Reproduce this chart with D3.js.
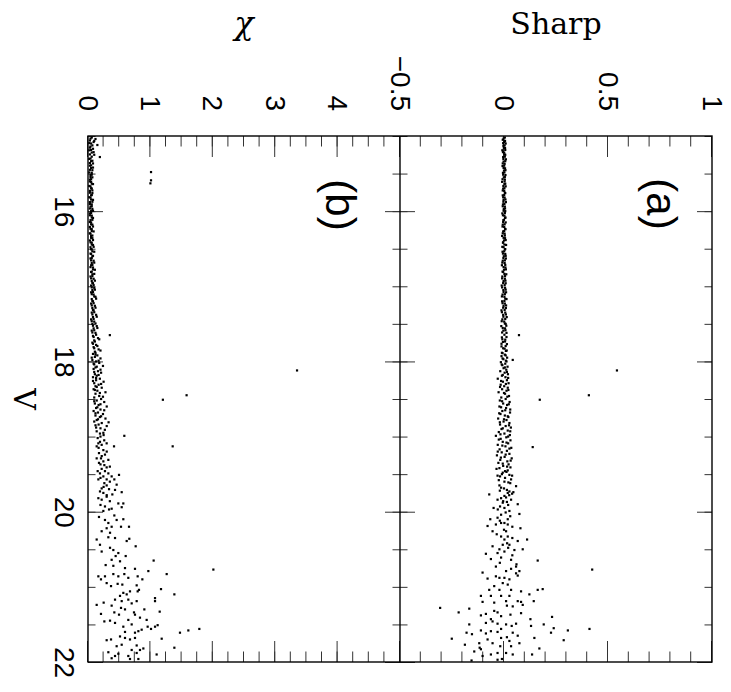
<!doctype html>
<html>
<head>
<meta charset="utf-8">
<title>Sharp and chi vs V</title>
<script src="https://cdnjs.cloudflare.com/ajax/libs/d3/7.8.5/d3.min.js"></script>
<style>
  body { margin: 0; background: #fff; }
</style>
</head>
<body>
<div id="chart"></div>
<script>
// axis ranges and tick labels
const vDomain = [15, 22];
const sharpDomain = [-0.5, 1];
const chiDomain = [0, 5];
const vLabels = [16, 18, 20, 22];
const sharpLabels = [-0.5, 0, 0.5, 1];
const chiLabels = [0, 1, 2, 3, 4];

// panel (a): [V, sharp]
const brightSharp = [[15.02,0.004],[15.05,-0.006],[15.08,0.002],[15.10,0.008],[15.13,-0.003],[15.16,0.005],[15.19,-0.008],[15.22,0.001],[15.25,0.006],[15.28,-0.004],[15.31,0.009],[15.34,-0.002],[15.37,0.003],[15.40,-0.007],[15.43,0.005],[15.46,0.0],[15.49,-0.005],[15.52,0.007],[15.55,-0.001],[15.58,0.004],[15.61,-0.009],[15.64,0.002],[15.67,0.008],[15.70,-0.004],[15.73,0.001],[15.76,0.006],[15.79,-0.006],[15.82,0.003],[15.85,-0.002],[15.88,0.009],[15.91,-0.005],[15.94,0.004],[15.97,-0.001],[16.00,0.006],[16.03,-0.008],[16.06,0.002],[16.09,0.005],[16.12,-0.003],[16.15,0.008],[16.18,-0.006],[16.21,0.001],[16.24,0.007],[16.27,-0.004],[16.30,0.003],[16.33,-0.009],[16.36,0.005],[16.39,0.0],[16.42,-0.005],[16.45,0.01],[16.48,-0.002],[16.51,0.004],[16.54,-0.007],[16.57,0.006],[16.60,-0.001],[16.63,0.009],[16.66,-0.006],[16.69,0.003],[16.72,-0.01],[16.75,0.007],[16.78,0.0],[16.81,-0.004],[16.84,0.011],[16.87,-0.008],[16.90,0.004],[16.93,-0.002],[16.96,0.008],[16.99,-0.011],[17.02,0.005],[17.05,-0.003],[17.08,0.01],[17.11,-0.007],[17.14,0.002],[17.17,0.012],[17.20,-0.009],[17.23,0.004],[17.26,-0.002],[17.29,0.009],[17.32,-0.012],[17.35,0.006],[17.38,-0.004],[17.41,0.013],[17.44,-0.008],[17.47,0.001],[17.50,0.008],[17.53,-0.013],[17.56,0.005],[17.59,-0.003],[17.62,0.012],[17.65,0.072],[17.68,-0.01],[17.71,0.006],[17.74,-0.005],[17.77,0.014],[17.80,-0.012],[17.83,0.003],[17.86,0.009],[17.89,-0.007]];

const brightSharp2 = [[15.035,-0.002],[15.065,0.005],[15.095,-0.004],[15.125,0.003],[15.155,-0.001],[15.185,0.006],[15.215,-0.005],[15.245,0.002],[15.275,0.004],[15.305,-0.003],[15.335,0.006],[15.365,-0.006],[15.395,0.001],[15.425,-0.002],[15.455,0.007],[15.485,0.002],[15.515,-0.004],[15.545,0.004],[15.575,-0.007],[15.605,0.003],[15.635,0.006],[15.665,-0.003],[15.695,0.002],[15.725,-0.006],[15.755,0.004],[15.785,0.001],[15.815,-0.004],[15.845,0.007],[15.875,-0.003],[15.905,0.002],[15.935,-0.006],[15.965,0.005],[15.995,-0.002],[16.025,0.004],[16.055,-0.005],[16.085,0.007],[16.115,0.0],[16.145,-0.004],[16.175,0.003],[16.205,-0.007],[16.235,0.005],[16.265,0.001],[16.295,-0.006],[16.325,0.004],[16.355,-0.002],[16.385,0.008],[16.415,-0.004],[16.445,0.002],[16.475,-0.008],[16.505,0.006],[16.535,0.001],[16.565,-0.005],[16.595,0.008],[16.625,-0.003],[16.655,0.004],[16.685,-0.008],[16.715,0.006],[16.745,-0.002],[16.775,0.009],[16.805,-0.007],[16.835,0.002],[16.865,0.005],[16.895,-0.009],[16.925,0.007],[16.955,-0.004],[16.985,0.003],[17.015,-0.009],[17.045,0.008],[17.075,-0.002],[17.105,0.004],[17.135,-0.01],[17.165,0.006],[17.195,0.002],[17.225,-0.007],[17.255,0.01],[17.285,-0.004],[17.315,0.003],[17.345,-0.01],[17.375,0.009],[17.405,-0.003],[17.435,0.006],[17.465,-0.011],[17.495,0.004],[17.525,0.011],[17.555,-0.006],[17.585,0.007],[17.615,-0.009],[17.645,0.002],[17.675,0.012],[17.705,-0.008],[17.735,0.005],[17.765,-0.012],[17.795,0.008],[17.825,-0.004],[17.855,0.013],[17.885,-0.01]];

const midSharp = [[17.91,0.004],[17.93,-0.012],[17.95,0.015],[17.97,-0.003],[17.98,0.042],[17.99,0.009],[18.01,-0.015],[18.03,0.006],[18.05,-0.008],[18.07,0.017],[18.09,-0.002],[18.11,0.011],[18.12,0.543],[18.13,-0.018],[18.15,0.003],[18.17,0.019],[18.19,-0.01],[18.21,0.007],[18.23,-0.03],[18.25,0.014],[18.27,-0.005],[18.29,0.022],[18.31,-0.016],[18.33,0.001],[18.35,0.018],[18.37,-0.009],[18.39,0.012],[18.41,-0.026],[18.43,0.005],[18.45,0.408],[18.46,0.024],[18.48,-0.013],[18.50,0.008],[18.51,0.172],[18.52,-0.02],[18.54,0.027],[18.56,-0.004],[18.58,0.015],[18.60,-0.022],[18.62,0.01],[18.64,0.03],[18.66,-0.008],[18.68,0.029],[18.70,-0.017],[18.72,0.004],[18.74,0.021],[18.76,-0.028],[18.78,0.012],[18.80,-0.002],[18.82,0.026],[18.84,-0.019],[18.86,0.008],[18.88,0.033],[18.90,-0.012],[18.92,0.018],[18.94,-0.025],[18.96,0.002],[18.98,0.028],[18.99,-0.039],[19.01,0.011],[19.03,-0.016],[19.05,0.031],[19.07,-0.006],[19.09,0.02],[19.11,-0.03],[19.13,0.007],[19.14,0.138],[19.15,0.035],[19.17,-0.021],[19.19,0.014],[19.21,-0.011],[19.23,0.026],[19.25,-0.034],[19.27,0.003],[19.29,0.037],[19.31,-0.018],[19.33,0.016],[19.35,-0.027],[19.37,0.022],[19.39,-0.004],[19.41,0.031],[19.43,-0.036]];

const midSharp2 = [[17.92,0.008],[17.96,-0.007],[18.00,0.012],[18.04,-0.011],[18.08,0.004],[18.14,0.014],[18.18,-0.006],[18.22,0.02],[18.26,-0.014],[18.30,0.009],[18.34,-0.019],[18.38,0.021],[18.42,0.0],[18.47,0.016],[18.53,-0.009],[18.57,0.023],[18.61,-0.014],[18.65,0.006],[18.69,-0.023],[18.73,0.018],[18.77,0.0],[18.81,-0.02],[18.85,0.024],[18.89,-0.006],[18.93,0.03],[18.97,-0.017],[19.00,0.02],[19.04,-0.025],[19.08,0.012],[19.12,-0.008],[19.16,0.026],[19.20,-0.03],[19.24,0.008],[19.28,-0.015],[19.32,0.032],[19.36,-0.006],[19.40,0.015],[19.42,-0.022]];

const faintSharp = [[19.52,-0.031],[19.53,-0.019],[19.48,-0.006],[19.46,0.005],[19.45,0.018],[19.51,0.026],[19.52,0.039],[19.57,0.034],[19.61,0.021],[19.60,0.002],[19.65,-0.022],[19.68,-0.014],[19.71,0.014],[19.73,0.026],[19.76,0.039],[19.75,0.018],[19.79,0.002],[19.82,-0.014],[19.84,-0.031],[19.66,0.058],[19.77,-0.071],[19.84,0.034],[19.87,0.014],[19.88,-0.006],[19.90,0.066],[19.93,-0.019],[19.95,-0.05],[19.95,0.002],[19.99,0.026],[20.03,0.074],[20.04,-0.014],[20.08,-0.031],[20.10,0.018],[20.15,0.002],[20.10,-0.066],[20.19,-0.079],[20.17,-0.039],[20.15,-0.014],[20.17,0.018],[20.22,0.079],[20.26,-0.055],[20.26,0.01],[20.33,-0.014],[20.33,0.018],[20.37,0.002],[20.39,0.066],[20.37,0.111],[20.44,-0.006],[20.46,-0.055],[20.44,0.026],[20.50,-0.022],[20.51,0.05],[20.50,0.09],[20.56,-0.087],[20.63,-0.063],[20.55,-0.031],[20.61,-0.014],[20.53,0.002],[20.64,0.034],[20.65,0.162],[20.73,0.058],[20.76,0.034],[20.79,0.01],[20.73,-0.039],[20.79,0.074],[20.81,-0.103],[20.86,-0.039],[20.88,-0.022],[20.88,0.002],[20.90,0.026],[20.82,0.058],[20.85,0.066],[20.89,-0.079],[20.95,-0.006],[20.97,0.018],[20.99,-0.047],[21.04,-0.071],[21.04,-0.022],[21.04,0.034],[21.06,0.082],[21.04,0.162],[21.03,0.186],[21.12,-0.111],[21.12,-0.063],[21.12,-0.014],[21.12,0.026],[21.10,0.122],[21.19,0.066],[21.20,-0.103],[21.21,-0.047],[21.19,0.01],[21.20,0.082],[21.19,0.143],[21.29,-0.167],[21.28,-0.307],[21.25,0.014],[21.26,0.042],[21.24,0.09],[21.38,-0.111],[21.36,-0.087],[21.32,-0.047],[21.34,-0.031],[21.39,-0.014],[21.43,-0.063],[21.37,0.031],[21.35,0.082],[21.34,-0.218],[21.40,0.231],[21.43,0.127],[21.50,-0.167],[21.48,-0.087],[21.46,-0.055],[21.49,-0.031],[21.50,0.01],[21.49,0.058],[21.52,0.130],[21.50,0.191],[21.55,0.239],[21.58,0.307],[21.56,0.411],[21.58,-0.111],[21.59,-0.063],[21.56,-0.014],[21.52,0.037],[21.61,-0.18],[21.63,-0.154],[21.62,-0.087],[21.60,-0.031],[21.61,0.042],[21.61,0.226],[21.69,-0.251],[21.70,-0.079],[21.68,-0.014],[21.67,0.014],[21.65,0.066],[21.68,0.146],[21.71,0.287],[21.77,-0.188],[21.75,-0.119],[21.75,-0.055],[21.72,0.026],[21.75,0.074],[21.81,-0.117],[21.83,-0.111],[21.79,-0.018],[21.79,0.034],[21.86,-0.143],[21.92,-0.103],[21.90,-0.063],[21.88,-0.031],[21.88,0.01],[21.90,0.042],[21.90,0.135],[21.82,0.17],[21.98,-0.156],[21.97,-0.031],[21.96,-0.01],[19.47,0.012],[19.50,-0.01],[19.55,0.005],[19.58,-0.025],[19.62,0.03],[19.69,0.0],[19.72,-0.02],[19.74,0.045],[19.78,0.025],[19.81,0.01],[19.86,-0.004],[19.91,0.02],[19.97,-0.03],[20.01,0.008],[20.06,0.03],[20.12,-0.02],[20.20,0.04],[20.24,0.0],[20.30,-0.035],[20.35,0.04],[20.42,0.015],[20.48,0.02],[20.58,0.04],[20.68,-0.02],[20.70,0.06],[20.77,0.424]];

// panel (b): [V, chi]
const brightChi = [[15.02,0.06],[15.04,0.12],[15.06,0.03],[15.08,0.09],[15.10,0.05],[15.12,0.15],[15.14,0.04],[15.17,0.08],[15.19,0.02],[15.22,0.06],[15.25,0.1],[15.28,0.19],[15.30,0.04],[15.33,0.07],[15.36,0.03],[15.39,0.05],[15.42,0.08],[15.45,0.03],[15.48,1.01],[15.49,0.06],[15.52,0.04],[15.55,0.07],[15.58,0.03],[15.59,1.01],[15.61,0.05],[15.63,1.0],[15.64,0.08],[15.67,0.04],[15.70,0.06],[15.73,0.03],[15.76,0.07],[15.79,0.05],[15.82,0.04],[15.85,0.08],[15.88,0.03],[15.91,0.06],[15.94,0.04],[15.97,0.07],[16.00,0.05],[16.03,0.03],[16.06,0.06],[16.09,0.08],[16.12,0.04],[16.15,0.05],[16.18,0.07],[16.21,0.03],[16.24,0.06],[16.27,0.09],[16.30,0.04],[16.33,0.05],[16.36,0.07],[16.39,0.03],[16.42,0.06],[16.45,0.08],[16.48,0.04],[16.51,0.06],[16.54,0.1],[16.57,0.05],[16.60,0.07],[16.63,0.04],[16.66,0.09],[16.69,0.06],[16.72,0.05],[16.75,0.08],[16.78,0.11],[16.81,0.05],[16.84,0.07],[16.87,0.04],[16.90,0.09],[16.93,0.06],[16.96,0.08],[16.99,0.05],[17.02,0.1],[17.05,0.07],[17.08,0.05],[17.11,0.09],[17.14,0.12],[17.17,0.06],[17.20,0.08],[17.23,0.05],[17.26,0.11],[17.29,0.07],[17.32,0.09],[17.35,0.06],[17.38,0.13],[17.41,0.08],[17.44,0.05],[17.47,0.1],[17.50,0.07],[17.53,0.14],[17.56,0.09],[17.59,0.06],[17.62,0.12],[17.65,0.35],[17.66,0.08],[17.69,0.16],[17.72,0.1],[17.75,0.07],[17.78,0.13],[17.81,0.09],[17.84,0.17],[17.87,0.11]];

const brightChi2 = [[15.035,0.04],[15.065,0.1],[15.095,0.02],[15.125,0.07],[15.155,0.03],[15.185,0.05],[15.215,0.09],[15.245,0.03],[15.275,0.06],[15.305,0.02],[15.335,0.05],[15.365,0.08],[15.395,0.03],[15.425,0.05],[15.455,0.07],[15.485,0.02],[15.515,0.06],[15.545,0.04],[15.575,0.05],[15.605,0.03],[15.635,0.06],[15.665,0.02],[15.695,0.05],[15.725,0.07],[15.755,0.03],[15.785,0.06],[15.815,0.02],[15.845,0.05],[15.875,0.07],[15.905,0.03],[15.935,0.06],[15.965,0.03],[15.995,0.08],[16.025,0.05],[16.055,0.03],[16.085,0.06],[16.115,0.07],[16.145,0.03],[16.175,0.05],[16.205,0.08],[16.235,0.04],[16.265,0.06],[16.295,0.03],[16.325,0.07],[16.355,0.05],[16.385,0.08],[16.415,0.04],[16.445,0.06],[16.475,0.09],[16.505,0.05],[16.535,0.07],[16.565,0.04],[16.595,0.08],[16.625,0.06],[16.655,0.05],[16.685,0.1],[16.715,0.07],[16.745,0.04],[16.775,0.08],[16.805,0.06],[16.835,0.1],[16.865,0.07],[16.895,0.05],[16.925,0.11],[16.955,0.07],[16.985,0.09],[17.015,0.06],[17.045,0.11],[17.075,0.08],[17.105,0.06],[17.135,0.1],[17.165,0.13],[17.195,0.07],[17.225,0.09],[17.255,0.06],[17.285,0.12],[17.315,0.08],[17.345,0.1],[17.375,0.07],[17.405,0.14],[17.435,0.09],[17.465,0.06],[17.495,0.12],[17.525,0.08],[17.555,0.15],[17.585,0.1],[17.615,0.07],[17.645,0.13],[17.675,0.09],[17.705,0.18],[17.735,0.11],[17.765,0.08],[17.795,0.15],[17.825,0.1],[17.855,0.2],[17.885,0.12]];

const midChi = [[17.90,0.08],[17.92,0.15],[17.94,0.11],[17.96,0.2],[17.98,0.07],[18.00,0.13],[18.02,0.18],[18.04,0.1],[18.06,0.24],[18.08,0.12],[18.10,0.09],[18.12,3.35],[18.13,0.16],[18.15,0.21],[18.17,0.11],[18.19,0.14],[18.21,0.08],[18.23,0.19],[18.25,0.13],[18.27,0.25],[18.29,0.1],[18.31,0.17],[18.33,0.12],[18.35,0.22],[18.37,0.09],[18.39,0.15],[18.41,0.28],[18.43,0.12],[18.45,1.58],[18.46,0.18],[18.48,0.1],[18.50,0.21],[18.51,1.2],[18.52,0.14],[18.54,0.26],[18.56,0.11],[18.58,0.17],[18.60,0.3],[18.62,0.13],[18.64,0.2],[18.66,0.09],[18.68,0.16],[18.70,0.24],[18.72,0.12],[18.74,0.19],[18.76,0.28],[18.78,0.14],[18.80,0.1],[18.82,0.22],[18.84,0.17],[18.86,0.3],[18.88,0.13]];

const midChi2 = [[17.91,0.12],[17.95,0.06],[17.99,0.17],[18.03,0.09],[18.07,0.14],[18.11,0.2],[18.14,0.1],[18.18,0.17],[18.22,0.13],[18.26,0.08],[18.30,0.21],[18.34,0.14],[18.38,0.11],[18.42,0.19],[18.47,0.24],[18.53,0.1],[18.57,0.2],[18.61,0.15],[18.65,0.26],[18.69,0.12],[18.73,0.21],[18.77,0.16],[18.81,0.33],[18.85,0.12],[18.89,0.2],[18.91,0.27]];

const faintChi = [[18.93,0.139],[18.96,0.192],[18.95,0.246],[19.02,0.155],[19.07,0.192],[19.09,0.166],[19.13,0.139],[19.11,0.219],[19.09,0.299],[19.13,0.417],[18.99,0.582],[19.13,1.357],[19.18,0.246],[19.22,0.176],[19.24,0.272],[19.29,0.208],[19.29,0.139],[19.31,0.326],[19.33,0.246],[19.35,0.176],[19.38,0.262],[19.41,0.299],[19.43,0.219],[19.46,0.155],[19.46,0.272],[19.49,0.192],[19.49,0.326],[19.53,0.246],[19.57,0.299],[19.53,0.379],[19.51,0.497],[19.57,0.422],[19.57,0.166],[19.62,0.262],[19.65,0.299],[19.69,0.219],[19.70,0.337],[19.64,0.459],[19.71,0.433],[19.74,0.540],[19.73,0.192],[19.75,0.246],[19.82,0.166],[19.84,0.219],[19.80,0.299],[19.77,0.390],[19.89,0.486],[19.89,0.566],[19.93,0.272],[19.97,0.337],[19.96,0.379],[19.94,0.540],[19.99,0.246],[20.07,0.176],[20.11,0.272],[20.05,0.422],[20.11,0.459],[20.10,0.566],[20.15,0.326],[20.20,0.379],[20.20,0.529],[20.20,0.657],[20.22,0.299],[20.26,0.219],[20.28,0.353],[20.37,0.139],[20.34,0.326],[20.35,0.433],[20.39,0.620],[20.36,0.662],[20.44,0.192],[20.48,0.353],[20.51,0.406],[20.55,0.486],[20.53,0.219],[20.59,0.443],[20.59,0.604],[20.46,0.764],[20.64,0.379],[20.71,0.283],[20.72,0.406],[20.66,0.513],[20.65,1.052],[20.77,2.009],[20.75,0.593],[20.76,0.753],[20.79,0.967],[20.83,1.261],[20.86,0.166],[20.86,0.272],[20.83,0.406],[20.86,0.486],[20.83,0.582],[20.88,0.646],[20.86,0.796],[20.90,0.871],[20.95,0.299],[20.99,0.369],[20.96,0.475],[20.97,0.550],[20.98,0.780],[20.90,0.208],[21.12,0.513],[21.08,0.566],[21.10,0.620],[21.06,0.673],[21.06,0.796],[21.04,0.817],[21.03,1.170],[21.10,1.384],[21.17,0.433],[21.19,0.540],[21.17,0.646],[21.22,0.700],[21.19,0.780],[21.15,1.074],[21.19,1.074],[21.24,0.139],[21.21,0.251],[21.25,0.379],[21.28,0.529],[21.30,0.593],[21.34,0.737],[21.30,0.903],[21.33,1.149],[21.36,0.208],[21.34,0.422],[21.37,0.497],[21.37,0.753],[21.46,0.262],[21.45,0.353],[21.48,0.433],[21.44,0.646],[21.50,0.700],[21.41,0.833],[21.44,0.940],[21.53,0.956],[21.53,1.074],[21.51,1.116],[21.53,0.566],[21.60,0.593],[21.61,0.753],[21.59,0.807],[21.57,0.860],[21.56,1.010],[21.61,1.474],[21.58,1.608],[21.56,1.784],[21.66,0.513],[21.68,0.593],[21.70,0.673],[21.68,0.753],[21.69,1.181],[21.71,0.299],[21.70,0.369],[21.79,0.459],[21.77,0.540],[21.78,0.780],[21.84,0.700],[21.84,0.833],[21.82,0.887],[21.81,1.384],[21.87,0.326],[21.95,0.379],[21.92,0.433],[21.89,0.486],[21.92,0.646],[21.96,0.673],[21.88,0.780],[21.96,0.807],[21.90,1.100],[18.98,0.25],[19.00,0.2],[19.05,0.26],[19.15,0.17],[19.20,0.3],[19.26,0.22],[19.37,0.2],[19.40,0.35],[19.55,0.2],[19.60,0.35],[19.67,0.25],[19.78,0.3],[19.86,0.35],[19.91,0.2]];

// plot drawn upright, then turned 90 degrees clockwise like the printed figure
const W = 526, panelH = 312, H = panelH * 2;
const svg = d3.select('#chart').append('svg')
  .attr('width', 731)
  .attr('height', 692);

const g = svg.append('g')
  .attr('transform', 'translate(712,136) rotate(90)');

const x = d3.scaleLinear().domain(vDomain).range([0, W]);
const ySharp = d3.scaleLinear().domain(sharpDomain).range([panelH, 0]);
const yChi = d3.scaleLinear().domain(chiDomain).range([H, panelH]);

const vMinor = x.ticks(14);
const sharpMinor = ySharp.ticks(15);
const chiMinor = d3.range(0, 5.001, 0.25);

const numFmt = d3.format('');

function styleAxis(sel) {
  sel.select('.domain').remove();
  sel.selectAll('line').attr('stroke', '#333').attr('stroke-width', 1);
  sel.attr('font-family', '"Liberation Sans", Arial, sans-serif')
    .attr('font-size', 28)
    .attr('fill', '#000');
  sel.selectAll('text').attr('fill', '#000');
}

// ticks along the value axes (left = screen top, right = screen bottom)
[[ySharp, sharpMinor, sharpLabels], [yChi, chiMinor, chiLabels]].forEach(([s, minor, major]) => {
  g.append('g').call(d3.axisLeft(s).tickValues(minor).tickSize(-10.5).tickFormat('')).call(styleAxis);
  g.append('g').call(d3.axisLeft(s).tickValues(major).tickSize(-21).tickPadding(25).tickFormat(numFmt)).call(styleAxis);
  g.append('g').attr('transform', `translate(${W},0)`)
    .call(d3.axisRight(s).tickValues(minor).tickSize(-10.5).tickFormat('')).call(styleAxis);
  g.append('g').attr('transform', `translate(${W},0)`)
    .call(d3.axisRight(s).tickValues(major).tickSize(-21).tickFormat('')).call(styleAxis);
});

// V ticks: top edge, divider (both sides) and bottom edge with labels
g.append('g').call(d3.axisTop(x).tickValues(vMinor).tickSize(-7.5).tickFormat('')).call(styleAxis);
g.append('g').call(d3.axisTop(x).tickValues(vLabels).tickSize(-15).tickFormat('')).call(styleAxis);
g.append('g').attr('transform', `translate(0,${panelH - 7.5})`)
  .call(d3.axisBottom(x).tickValues(vMinor).tickSize(15).tickFormat('')).call(styleAxis);
g.append('g').attr('transform', `translate(0,${panelH - 15})`)
  .call(d3.axisBottom(x).tickValues(vLabels).tickSize(30).tickFormat('')).call(styleAxis);
g.append('g').attr('transform', `translate(0,${H})`)
  .call(d3.axisBottom(x).tickValues(vMinor).tickSize(-7.5).tickFormat('')).call(styleAxis);
g.append('g').attr('transform', `translate(0,${H})`)
  .call(d3.axisBottom(x).tickValues(vLabels).tickSize(-15).tickPadding(13).tickFormat(numFmt)).call(styleAxis);

// frame and panel divider
g.append('rect')
  .attr('x', 0).attr('y', 0)
  .attr('width', W).attr('height', H)
  .attr('fill', 'none')
  .attr('stroke', '#000')
  .attr('stroke-width', 1.4);
g.append('line')
  .attr('x1', 0).attr('x2', W)
  .attr('y1', panelH).attr('y2', panelH)
  .attr('stroke', '#000')
  .attr('stroke-width', 1.4);

// the stars
const dot = 2.2;
g.append('g').selectAll('rect')
  .data(brightSharp.concat(brightSharp2, midSharp, midSharp2, faintSharp))
  .join('rect')
  .attr('x', d => x(d[0]) - dot / 2)
  .attr('y', d => ySharp(d[1]) - dot / 2)
  .attr('width', dot).attr('height', dot)
  .attr('fill', '#000');

g.append('g').selectAll('rect')
  .data(brightChi.concat(brightChi2, midChi, midChi2, faintChi))
  .join('rect')
  .attr('x', d => x(d[0]) - dot / 2)
  .attr('y', d => yChi(d[1]) - dot / 2)
  .attr('width', dot).attr('height', dot)
  .attr('fill', '#000');

// axis titles and panel letters
const serif = '"DejaVu Serif", serif';
g.append('text')
  .attr('transform', `translate(-102,${panelH / 2}) rotate(-90)`)
  .attr('text-anchor', 'middle')
  .attr('font-family', serif)
  .attr('font-size', 30)
  .text('Sharp');
g.append('text')
  .attr('transform', `translate(-102,${panelH * 1.5}) rotate(-90)`)
  .attr('text-anchor', 'middle')
  .attr('font-family', serif)
  .attr('font-style', 'italic')
  .attr('font-size', 32)
  .text('χ');
g.append('text')
  .attr('x', W / 2)
  .attr('y', 698)
  .attr('text-anchor', 'middle')
  .attr('font-family', serif)
  .attr('font-size', 30)
  .text('V');

g.append('text')
  .attr('x', 68).attr('y', 65)
  .attr('text-anchor', 'middle')
  .attr('font-family', '"Liberation Sans", Arial, sans-serif')
  .attr('font-size', 42)
  .text('(a)');
g.append('text')
  .attr('x', 69).attr('y', panelH + 74)
  .attr('text-anchor', 'middle')
  .attr('font-family', '"Liberation Sans", Arial, sans-serif')
  .attr('font-size', 42)
  .text('(b)');
</script>
</body>
</html>
